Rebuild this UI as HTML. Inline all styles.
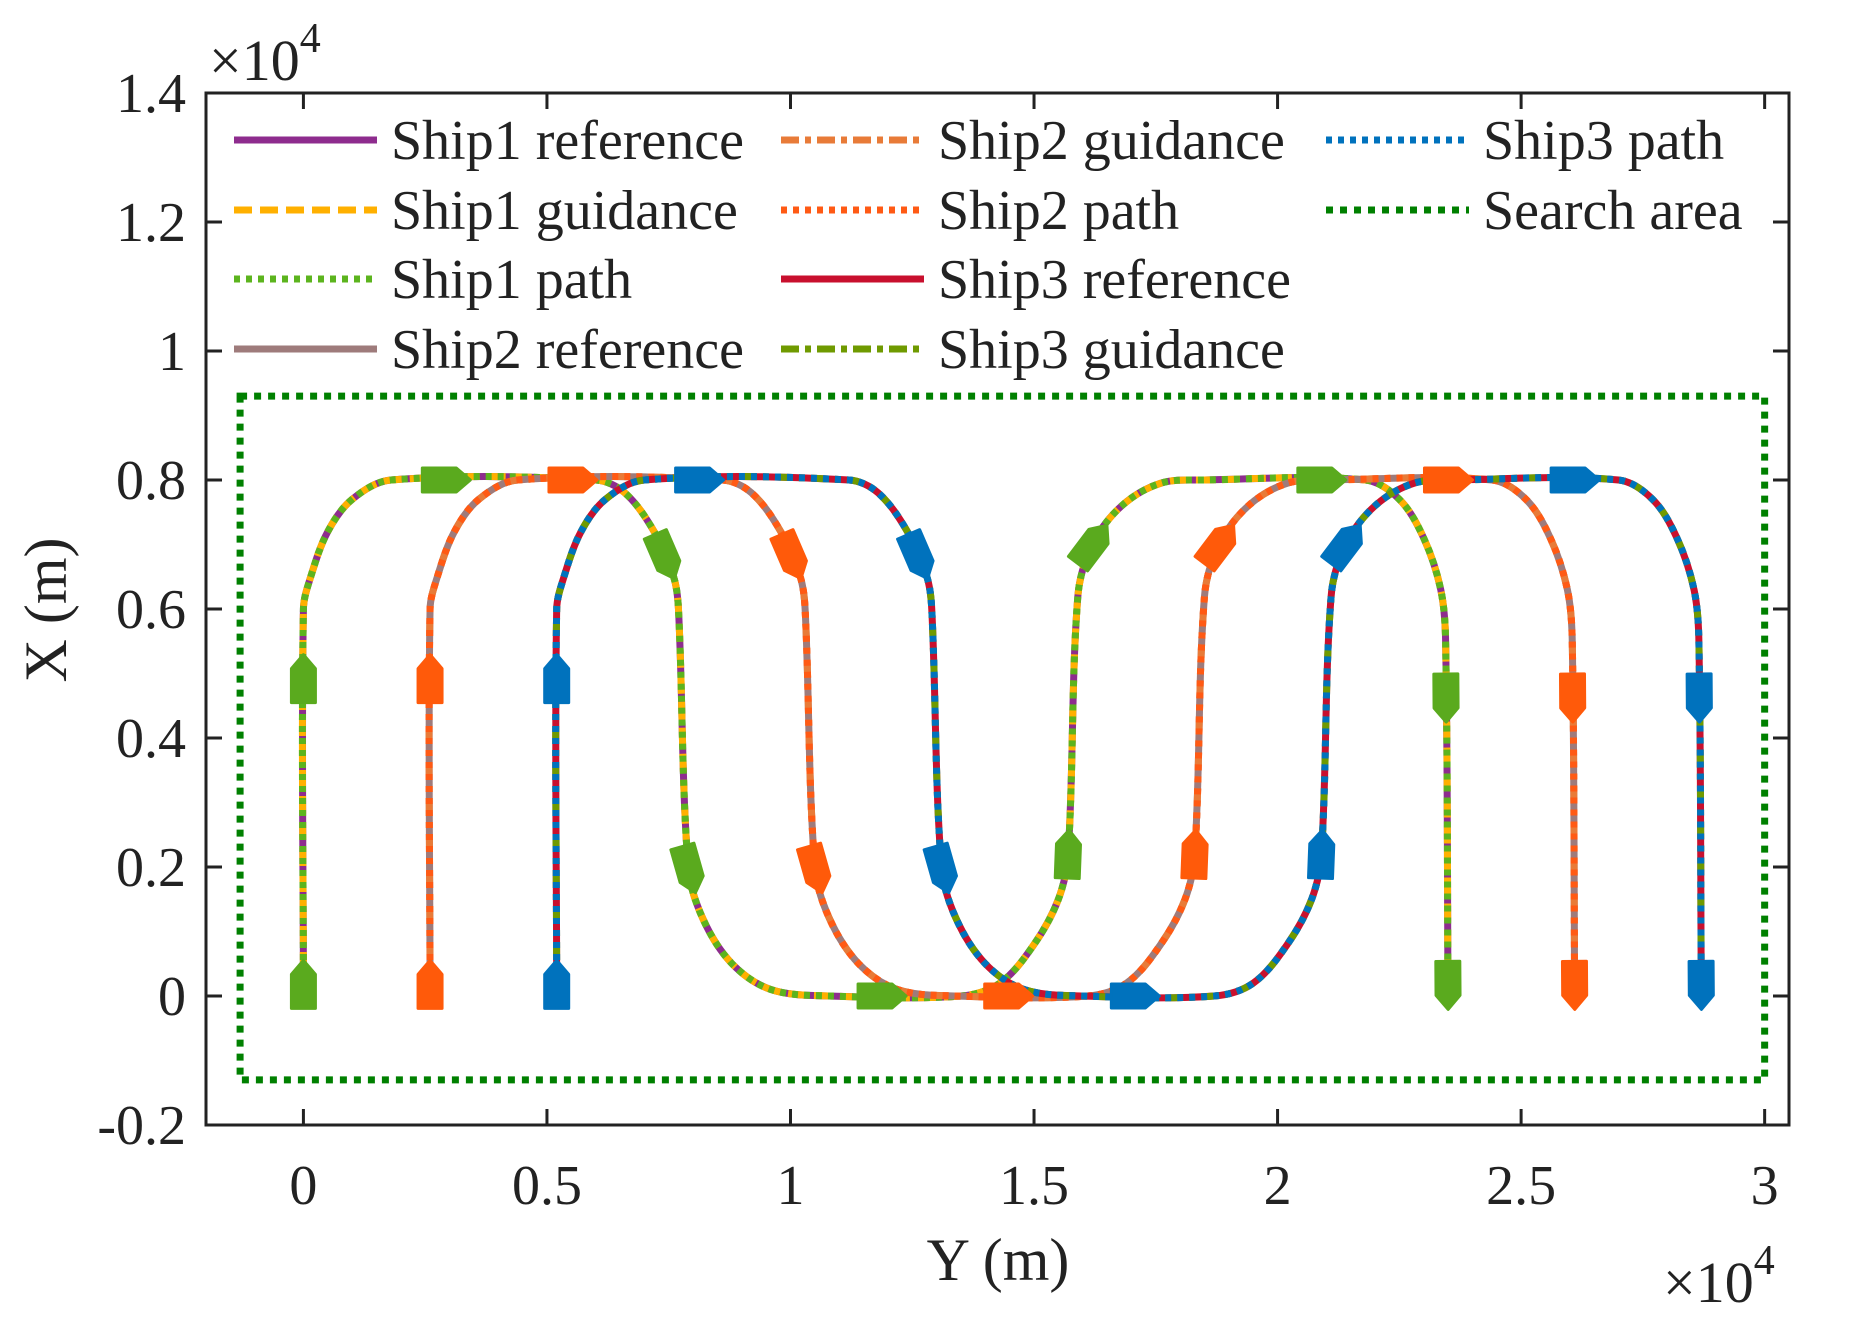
<!DOCTYPE html>
<html><head><meta charset="utf-8"><style>
html,body{margin:0;padding:0;background:#fff}
svg{display:block}
text{font-family:"Liberation Serif",serif;fill:#222}
</style></head><body>
<svg id="chart" width="1857" height="1323" viewBox="0 0 1857 1323" xmlns="http://www.w3.org/2000/svg">
<rect x="0" y="0" width="1857" height="1323" fill="#fff"/>
<g id="plot"></g>
<g id="axes"></g>
<g id="legend"></g>
</svg>
<script>
// ---- data ----
const xTicks=[0,5000,10000,15000,20000,25000,30000];
const xTickLabels=["0","0.5","1","1.5","2","2.5","3"];
const yTicks=[-2000,0,2000,4000,6000,8000,10000,12000,14000];
const yTickLabels=["-0.2","0","0.2","0.4","0.6","0.8","1","1.2","1.4"];
const shipNames=["Ship1","Ship2","Ship3"];
const shipOffsets=[0,2600,5200];
const baseY=[0,0,150,500,1000,1800,6000,6600,7200,7600,7700,7900,8200,8800,9600,10800,13500,14300,15000,15500,15700,15900,16200,16800,17600,18500,21800,22500,23000,23350,23450,23500];
const baseX=[0,6000,6500,7200,7700,8000,8000,7800,7200,6500,6000,2000,1200,500,100,0,0,200,800,1500,2200,6200,7000,7600,7950,8000,8000,7700,7100,6300,5500,0];
const markerIdx=[0.03,0.82,5.27,8.55,11.05,15.4,20.0,22.0,25.73,30.16,30.97];
const searchY=[-1300,30000];
const searchX=[-1300,9300];
// ---- scales ----
const L=206,R=1789,T=93,B=1125;
const xMin=-2000,xMax=30500,yMin=-2000,yMax=14000;
const sx=v=>L+(v-xMin)/(xMax-xMin)*(R-L);
const sy=v=>B-(v-yMin)/(yMax-yMin)*(B-T);
const NS="http://www.w3.org/2000/svg";
function mk(tag,attrs,parent){const e=document.createElementNS(NS,tag);for(const k in attrs)e.setAttribute(k,attrs[k]);parent.appendChild(e);return e;}
const plot=document.getElementById('plot'),axes=document.getElementById('axes'),legend=document.getElementById('legend');
const styles=[
 [{c:"#8e2c8e",d:"none"},{c:"#ffb000",d:"18 8"},{c:"#5cb41e",d:"6 6"}],
 [{c:"#9e7b7b",d:"none"},{c:"#e87b38",d:"18 6 6 6"},{c:"#ff5a14",d:"6 6"}],
 [{c:"#c8102e",d:"none"},{c:"#6f9a00",d:"18 6 6 6"},{c:"#0072bd",d:"6 6"}]];
const markerColors=["#5aaa1e","#ff5a0a","#0072bd"];
const kinds=["reference","guidance","path"];
function unit(a,b){const dx=b[0]-a[0],dy=b[1]-a[1],l=Math.hypot(dx,dy)||1;return [dx/l,dy/l];}
function smoothPath(P){
 let d="M"+P[0][0]+","+P[0][1];
 const tan=P.map((p,i)=>unit(P[Math.max(i-1,0)],P[Math.min(i+1,P.length-1)]));
 for(let i=0;i<P.length-1;i++){
  const p1=P[i],p2=P[i+1],len=Math.hypot(p2[0]-p1[0],p2[1]-p1[1])/3;
  const c1=[p1[0]+tan[i][0]*len,p1[1]+tan[i][1]*len];
  const c2=[p2[0]-tan[i+1][0]*len,p2[1]-tan[i+1][1]*len];
  d+=" C"+c1[0]+","+c1[1]+" "+c2[0]+","+c2[1]+" "+p2[0]+","+p2[1];
 }
 return d;
}
const sr=mk('rect',{x:sx(searchY[0]),y:sy(searchX[1]),width:sx(searchY[1])-sx(searchY[0]),height:sy(searchX[0])-sy(searchX[1]),fill:"none",stroke:"#008000","stroke-width":7,"stroke-dasharray":"7 7"},plot);


shipNames.forEach((nm,i)=>{
 const P=baseY.map((y,j)=>[sx(y+shipOffsets[i]),sy(baseX[j])]);
 const d=smoothPath(P);
 styles[i].forEach((st,k)=>{
  const p=mk('path',{d:d,fill:"none",stroke:st.c,"stroke-width":7,"stroke-dasharray":st.d,"stroke-linejoin":"round"},plot);
  
  
 });
});
shipNames.forEach((nm,i)=>{
 markerIdx.forEach(t=>{
  const j=Math.min(Math.floor(t),baseY.length-2),f=t-j;
  const y0=sx(baseY[j]+shipOffsets[i]),x0=sy(baseX[j]),y1=sx(baseY[j+1]+shipOffsets[i]),x1=sy(baseX[j+1]);
  const cx=y0+(y1-y0)*f,cy=x0+(x1-x0)*f;
  const ang=Math.atan2(x1-x0,y1-y0)*180/Math.PI;
  const m=mk('path',{d:"M-24,-12 L10,-12 L24,0 L10,12 L-24,12 Z",fill:markerColors[i],stroke:markerColors[i],"stroke-width":3,"stroke-linejoin":"round",transform:`translate(${cx},${cy}) rotate(${ang})`},plot);
  
  
 });
});
const box=mk('rect',{x:L,y:T,width:R-L,height:B-T,fill:"none",stroke:"#222","stroke-width":3},axes);


xTicks.forEach((v,i)=>{
 const x=sx(v);
 mk('line',{x1:x,y1:B,x2:x,y2:B-16,stroke:"#222","stroke-width":3},axes);
 mk('line',{x1:x,y1:T,x2:x,y2:T+16,stroke:"#222","stroke-width":3},axes);
 const t=mk('text',{x:x,y:1204,"font-size":56,"text-anchor":"middle"},axes);t.textContent=xTickLabels[i];
 
 
});
yTicks.forEach((v,i)=>{
 const y=sy(v);
 mk('line',{x1:L,y1:y,x2:L+16,y2:y,stroke:"#222","stroke-width":3},axes);
 mk('line',{x1:R,y1:y,x2:R-16,y2:y,stroke:"#222","stroke-width":3},axes);
 const t=mk('text',{x:186,y:y+19,"font-size":56,"text-anchor":"end"},axes);t.textContent=yTickLabels[i];
 
 
});
function expo(x,y,name){const t=mk('text',{x:x,y:y,"font-size":58},axes);t.innerHTML='×10<tspan dy="-28" font-size="42">4</tspan>';}
expo(209,80,'y-exponent-label');expo(1663,1302,'x-exponent-label');
const xl=mk('text',{x:998,y:1280,"font-size":60,"text-anchor":"middle"},axes);xl.textContent="Y (m)";

const yl=mk('text',{x:0,y:0,"font-size":60,"text-anchor":"middle",transform:"translate(66,610) rotate(-90)"},axes);yl.textContent="X (m)";

const legX=[234,781,1326],legY=[140,210,279,349];
const legOrder=[[0,0],[0,1],[0,2],[1,0],[1,1],[1,2],[2,0],[2,1],[2,2]];
const entries=[];
legOrder.forEach(([s,k])=>entries.push({label:shipNames[s]+" "+kinds[k],st:styles[s][k]}));
entries.push({label:"Search area",st:{c:"#008000",d:"7 7"}});
entries.forEach((e,n)=>{
 const col=Math.floor(n/4),row=n%4;
 const x=legX[col],y=legY[row];
 const g=mk('g',{},legend);
 
 
 mk('line',{x1:x,y1:y,x2:x+143,y2:y,stroke:e.st.c,"stroke-width":7,"stroke-dasharray":e.st.d},g);
 const t=mk('text',{x:x+157,y:y+19,"font-size":56},g);t.textContent=e.label;
});
</script>
</body></html>
